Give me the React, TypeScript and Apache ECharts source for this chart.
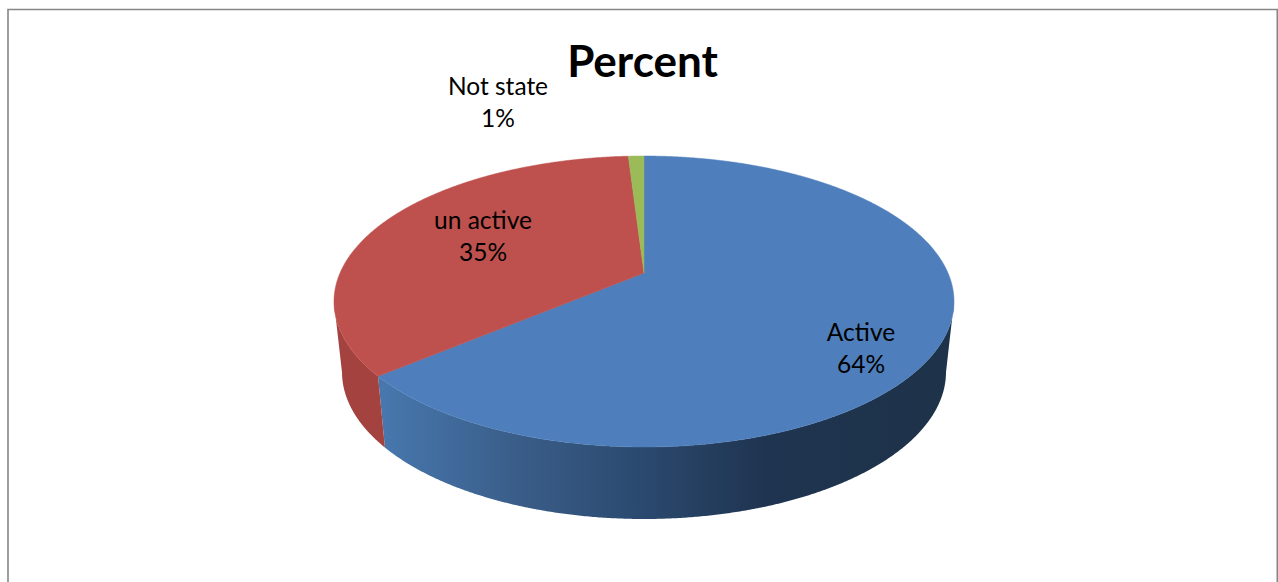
import React, { useEffect, useRef } from "react";
import * as echarts from "echarts";

const titleText = "Percent";
const categories = ["Active", "un active", "Not state"];
const percents = [64, 35, 1];

const topColors = ["#4e7ebb", "#be504d", "#9bbb59"];
const sideStops = [
  [
    { offset: 0, color: "#4777ad" },
    { offset: 0.25, color: "#395c87" },
    { offset: 0.45, color: "#2b4a70" },
    { offset: 0.68, color: "#1f3450" },
    { offset: 1, color: "#1e3249" },
  ],
  [
    { offset: 0, color: "#a3423f" },
    { offset: 1, color: "#a3423f" },
  ],
  [
    { offset: 0, color: "#7d9747" },
    { offset: 1, color: "#7d9747" },
  ],
];

const FONT = "Lato";
const TOP = { cx: 644, cy: 301.5, rx: 310, ry: 145.5 };
const BOTTOM = { cx: 644, cy: 372, rx: 302, ry: 147 };
const APEX = { x: 644, y: 273 };
const GRADIENT = { x: 384, x2: 946 };
const labelPositions = [
  { x: 861, y: 347 },
  { x: 483, y: 235 },
  { x: 498, y: 101 },
];

const DEG = Math.PI / 180;

function rimAngle(theta: number): number {
  const ax = (APEX.x - TOP.cx) / TOP.rx;
  const ay = (APEX.y - TOP.cy) / TOP.ry;
  const ux = Math.sin(theta);
  const uy = -Math.cos(theta);
  const b = ax * ux + ay * uy;
  const s = -b + Math.sqrt(b * b - (ax * ax + ay * ay) + 1);
  const px = ax + s * ux;
  const py = ay + s * uy;
  return Math.atan2(px, -py);
}

const rimPoint = (e: typeof TOP, t: number): number[] => [
  e.cx + e.rx * Math.sin(t),
  e.cy - e.ry * Math.cos(t),
];

function renderSlice(params: any) {
  const i = params.dataIndex;
  const total = percents.reduce((a, b) => a + b, 0);
  const before = percents.slice(0, i).reduce((a, b) => a + b, 0);
  const start = (before / total) * 360;
  const end = ((before + percents[i]) / total) * 360;
  const steps = Math.max(8, Math.ceil((end - start) * 3));

  const topPts: number[][] = [[APEX.x, APEX.y]];
  const sideTop: number[][] = [];
  const sideBottom: number[][] = [];
  for (let k = 0; k <= steps; k++) {
    const th = (start + ((end - start) * k) / steps) * DEG;
    const t = rimAngle(th);
    topPts.push(rimPoint(TOP, t));
    const tn = t < 0 ? t + 2 * Math.PI : t;
    if (tn >= 90 * DEG && tn <= 270 * DEG) {
      sideTop.push(rimPoint(TOP, tn));
      sideBottom.push(rimPoint(BOTTOM, tn));
    }
  }

  const children: any[] = [];
  if (sideTop.length > 1) {
    children.push({
      type: "polygon",
      shape: { points: sideTop.concat(sideBottom.reverse()) },
      style: {
        fill: {
          type: "linear",
          x: GRADIENT.x,
          y: 0,
          x2: GRADIENT.x2,
          y2: 0,
          global: true,
          colorStops: sideStops[i],
        },
      },
    });
  }
  children.push({
    type: "polygon",
    shape: { points: topPts },
    style: { fill: topColors[i], stroke: topColors[i], lineWidth: 0.5 },
  });
  children.push({
    type: "text",
    x: labelPositions[i].x,
    y: labelPositions[i].y,
    z2: 10,
    style: {
      text: `${categories[i]}\n${percents[i]}%`,
      fill: "#000000",
      font: `24.5px ${FONT}`,
      lineHeight: 32,
      align: "center",
      verticalAlign: "middle",
    },
  });
  return { type: "group", children };
}

export default function App() {
  const ref = useRef<HTMLDivElement>(null);
  useEffect(() => {
    document.body.style.margin = "0";
    const chart = echarts.init(ref.current!, null, { renderer: "svg" });
    chart.setOption({
      animation: false,
      backgroundColor: "#ffffff",
      title: {
        text: titleText,
        left: 637.5,
        top: 33,
        textAlign: "center",
        textStyle: { fontFamily: FONT, fontSize: 44, fontWeight: "bold", color: "#000000" },
      },
      graphic: [
        {
          type: "polyline",
          shape: { points: [[8, 600], [8, 9.5], [1277.3, 9.5], [1277.3, 600]] },
          style: { stroke: "#868686", lineWidth: 1.6, fill: "none" },
        },
      ],
      series: [
        {
          type: "custom",
          coordinateSystem: "none",
          renderItem: renderSlice,
          data: categories.map((name, i) => ({ name, value: percents[i] })),
        },
      ],
    });
    return () => chart.dispose();
  }, []);
  return <div ref={ref} style={{ width: 1278, height: 582 }} />;
}
